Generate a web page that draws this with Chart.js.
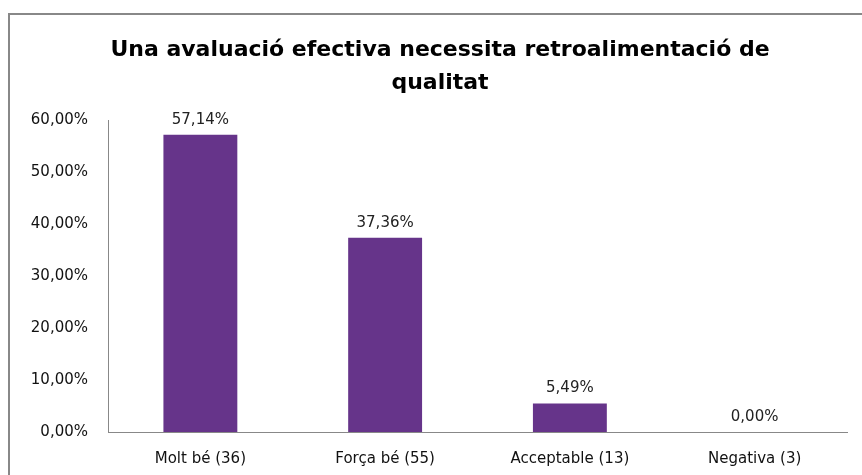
<!DOCTYPE html>
<html>
<head>
<meta charset="utf-8">
<script src="https://cdn.jsdelivr.net/npm/chart.js@4/dist/chart.umd.min.js"></script>
<style>
html,body{margin:0;padding:0;background:#fff;}
#wrap{width:862px;height:475px;position:relative;}
</style>
</head>
<body>
<div id="wrap"><canvas id="c" width="862" height="475"></canvas></div>
<script>
const titleLines = ["Una avaluació efectiva necessita retroalimentació de", "qualitat"];
const categories = ["Molt bé (36)", "Força bé (55)", "Acceptable (13)", "Negativa (3)"];
const values = [57.14, 37.36, 5.49, 0.00];
const yTicks = [0, 10, 20, 30, 40, 50, 60];

const fmt = v => v.toFixed(2).replace('.', ',') + '%';

const frameAndLabels = {
  id: 'frameAndLabels',
  beforeDraw(chart) {
    const ctx = chart.ctx;
    ctx.save();
    ctx.fillStyle = '#fff';
    ctx.fillRect(0, 0, chart.width, chart.height);
    ctx.strokeStyle = '#888888';
    ctx.lineWidth = 2;
    ctx.strokeRect(9, 14, chart.width + 10, chart.height + 10);
    ctx.fillStyle = '#000';
    ctx.font = 'bold 22px "DejaVu Sans"';
    ctx.textAlign = 'center';
    ctx.textBaseline = 'alphabetic';
    ctx.fillText(titleLines[0], 440, 56);
    ctx.fillText(titleLines[1], 440, 89);
    ctx.restore();
  },
  afterDatasetsDraw(chart) {
    const ctx = chart.ctx;
    const meta = chart.getDatasetMeta(0);
    ctx.save();
    ctx.fillStyle = '#222';
    ctx.font = '15px "DejaVu Sans"';
    ctx.textAlign = 'center';
    ctx.textBaseline = 'alphabetic';
    meta.data.forEach((bar, i) => {
      ctx.fillText(fmt(values[i]), bar.x, bar.y - 11);
    });
    ctx.restore();
  }
};

new Chart(document.getElementById('c'), {
  type: 'bar',
  data: {
    labels: categories,
    datasets: [{
      data: values,
      backgroundColor: '#66348a',
      borderWidth: 0,
      barPercentage: 0.8,
      categoryPercentage: 0.5
    }]
  },
  options: {
    responsive: false,
    animation: false,
    devicePixelRatio: 1,
    layout: { padding: { top: 120, right: 15, left: 0, bottom: 0 } },
    plugins: { legend: { display: false }, title: { display: false }, tooltip: { enabled: false } },
    scales: {
      x: {
        grid: { display: false, drawTicks: false },
        border: { display: true, color: '#888888', width: 1 },
        ticks: { color: '#111', font: { family: 'DejaVu Sans', size: 15 }, padding: 18, maxRotation: 0 },
        afterFit(s) { s.height = 43; }
      },
      y: {
        min: 0, max: 60,
        afterBuildTicks(s) { s.ticks = yTicks.map(v => ({ value: v })); },
        grid: { display: false, drawTicks: false },
        border: { display: true, color: '#888888', width: 1 },
        ticks: { color: '#111', font: { family: 'DejaVu Sans', size: 15 }, padding: 20, callback: v => fmt(v) },
        afterFit(s) { s.width = 108; }
      }
    }
  },
  plugins: [frameAndLabels]
});
</script>
</body>
</html>
